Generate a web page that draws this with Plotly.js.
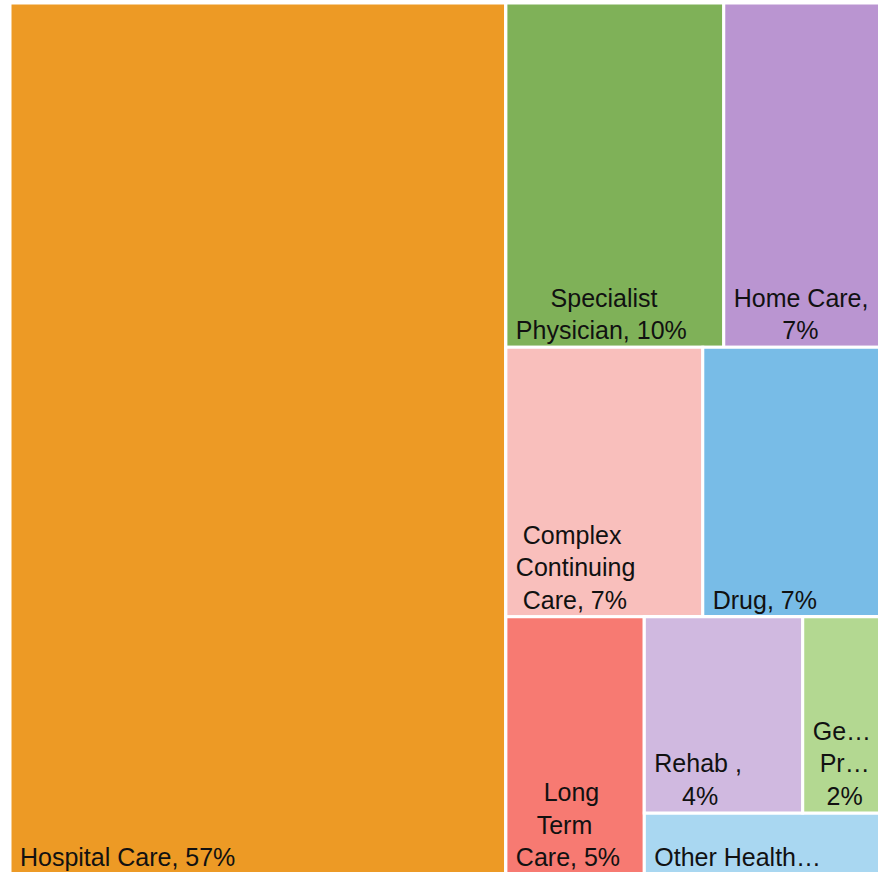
<!DOCTYPE html>
<html>
<head>
<meta charset="utf-8">
<script src="https://cdn.plot.ly/plotly-3.0.1.min.js"></script>
<style>
  html, body { margin: 0; padding: 0; background: #ffffff; overflow: hidden; }
  #chart { width: 880px; height: 874px; }
</style>
</head>
<body>
<div id="chart"></div>
<script>
// Categories (leaf tiles) and their shares of spending (%)
const categories = ["Hospital Care", "Specialist Physician", "Home Care", "Complex Continuing Care",
                    "Drug", "Long Term Care", "Rehab", "Ge… Pr…", "Other Health…"];
const shares = [57.0, 9.9, 7.1, 7.0, 6.3, 4.7, 4.1, 2.0, 1.9];
// Text as it is wrapped in the picture (lines centred on each other)
const S = "\u00a0";
const tileText = [
  S + "Hospital Care, 57%",
  S.repeat(6) + "Specialist<br>" + S + "Physician, 10%",
  S + "Home Care,<br>" + S.repeat(8) + "7%",
  S.repeat(2) + "Complex<br>" + S + "Continuing<br>" + S.repeat(2) + "Care, 7%",
  S + "Drug, 7%",
  S.repeat(5) + "Long<br>" + S.repeat(4) + "Term<br>" + S + "Care, 5%",
  S + "Rehab ,<br>" + S.repeat(5) + "4%",
  S + "Ge…<br>" + S.repeat(2) + "Pr…<br>" + S.repeat(3) + "2%",
  S + "Other Health…"
];
const tileColors = ["#ED9A25", "#7FB158", "#BA95D1", "#F9BFBC", "#78BCE7",
                    "#F77A72", "#D0B9E0", "#B3D891", "#A9D7F1"];
// Grouping that reproduces the tile arrangement of the picture
const groups = ["all", "right", "row1", "row2", "row3", "mix", "mixTop"];
const groupParents = ["", "all", "right", "right", "right", "row3", "mix"];
const categoryParents = ["all", "row1", "row1", "row2", "row2", "row3", "mixTop", "mixTop", "mix"];

// Build node lists in drawing order (children order matters, sort is off)
const order = [
  ["g", 0], ["c", 0], ["g", 1], ["g", 2], ["c", 1], ["c", 2], ["g", 3], ["c", 3], ["c", 4],
  ["g", 4], ["c", 5], ["g", 5], ["g", 6], ["c", 6], ["c", 7], ["c", 8]
];
const ids = [], labels = [], parents = [], values = [], texts = [], colors = [];
order.forEach(([kind, i]) => {
  if (kind === "g") {
    ids.push(groups[i]); labels.push(""); parents.push(groupParents[i]);
    values.push(0); texts.push(""); colors.push("#ffffff");
  } else {
    ids.push(categories[i]); labels.push(categories[i]); parents.push(categoryParents[i]);
    values.push(shares[i]); texts.push(tileText[i]); colors.push(tileColors[i]);
  }
});

const trace = {
  type: "treemap",
  ids: ids,
  labels: labels,
  parents: parents,
  values: values,
  text: texts,
  texttemplate: "%{text}",
  textposition: "bottom left",
  branchvalues: "remainder",
  sort: false,
  maxdepth: -1,
  tiling: { packing: "slice-dice", pad: 0 },
  marker: {
    colors: colors,
    line: { color: "#ffffff", width: 3 },
    pad: { t: 0, l: 0, r: 0, b: 0 }
  },
  leaf: { opacity: 1 },
  pathbar: { visible: false },
  textfont: { family: "Liberation Sans, Arial, sans-serif", size: 25, color: "#111111" },
  hoverinfo: "label+value"
};

const layout = {
  width: 880,
  height: 874,
  margin: { l: 10, r: 0, t: 3, b: 0 },
  paper_bgcolor: "#ffffff",
  showlegend: false
};

Plotly.newPlot("chart", [trace], layout, { displayModeBar: false, staticPlot: true });
</script>
</body>
</html>
